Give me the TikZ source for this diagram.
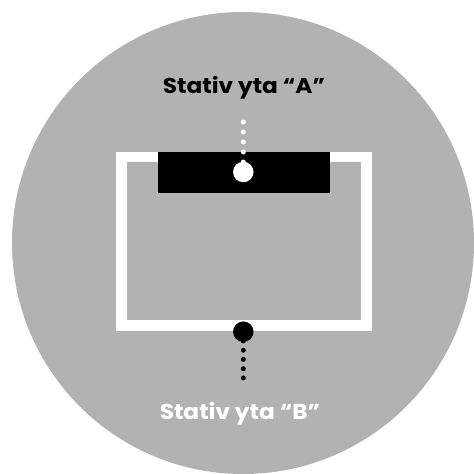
\documentclass[tikz,border=0pt]{standalone}
\usepackage{fontspec}
\setmainfont{Poppins}
\begin{document}
\begin{tikzpicture}[x=1pt,y=-1pt,
  lbl/.style={font=\fontsize{21.5}{24}\selectfont\bfseries, inner sep=0pt, anchor=base, xscale=1.08},
  dotline/.style={line width=5pt, line cap=round, dash pattern=on 0pt off #1pt},
  pin/.style={circle, minimum size=20.5pt, inner sep=0pt}]
\useasboundingbox (0,0) rectangle (474,474);
\fill[black!30] (243,243) circle (231);
% white frame
\draw[white, line width=10.5pt] (121.3,157.2) rectangle (366.5,325.6);
% black bar
\node[fill=black, inner sep=0pt, anchor=north west, minimum width=172pt, minimum height=40.5pt] (bar) at (158,152) {};
% labels
\node[lbl, text=black] (la) at (244,93.3) {Stativ yta “A”};
\node[lbl, text=white] (lb) at (240,419) {Stativ yta “B”};
% pin positions and dotted leaders
\coordinate (ca) at (243.3,172);
\coordinate (cb) at (243.3,331.7);
\coordinate (ta) at (243.3,112);
\coordinate (tb) at (243.3,378.7);
\draw[white, dotline=10] (ca) -- (ta);
\draw[black, dotline=9.25] (cb) -- (tb);
% pins
\node[pin, fill=white] (pa) at (ca) {};
\node[pin, fill=black] (pb) at (cb) {};
\end{tikzpicture}
\end{document}
